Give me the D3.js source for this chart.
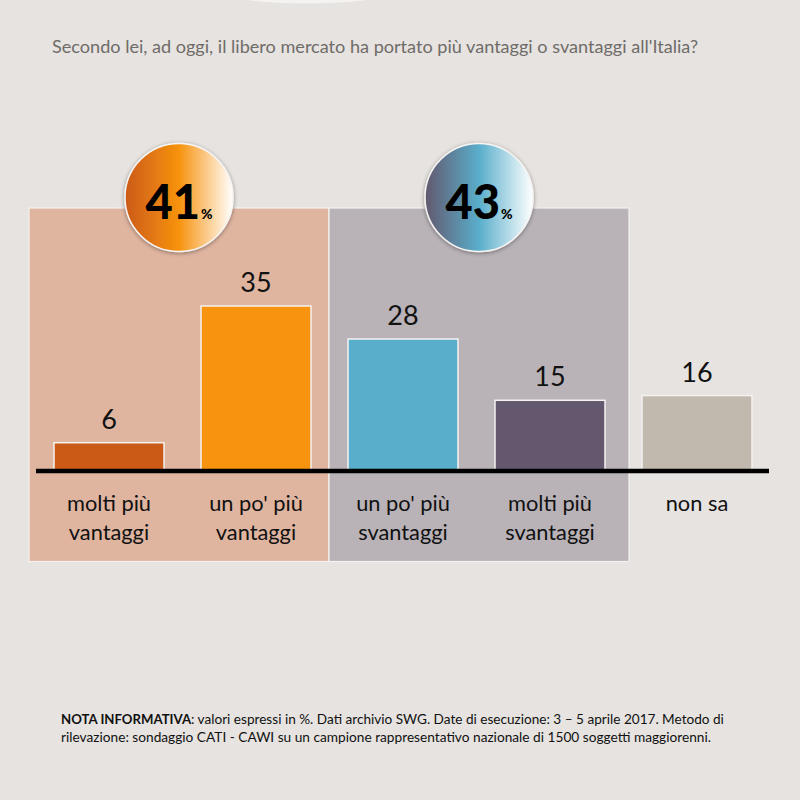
<!DOCTYPE html>
<html>
<head>
<meta charset="utf-8">
<script src="https://cdn.jsdelivr.net/npm/d3@7"></script>
<style>
	html, body { margin: 0; padding: 0; background: #e6e3e0; }
	svg { display: block; font-family: Lato, "Open Sans", sans-serif; }
</style>
</head>
<body>
<svg class="viz" width="800" height="800"></svg>
<script>
const titleText = "Secondo lei, ad oggi, il libero mercato ha portato più vantaggi o svantaggi all'Italia?";
const categories = ["molti più vantaggi", "un po' più vantaggi", "un po' più svantaggi", "molti più svantaggi", "non sa"];
const tickLines = [["molti più", "vantaggi"], ["un po' più", "vantaggi"], ["un po' più", "svantaggi"], ["molti più", "svantaggi"], ["non sa"]];
const values = [6, 35, 28, 15, 16];
const barColors = ["#cb5a17", "#f7930f", "#59aecb", "#63586e", "#c1b8ae"];
const groupTotals = [41, 43];
const groupFills = ["#dfb5a0", "#b9b3b8"];
const groupGradients = [["#cb5a17", "#f7930f", "#ffffff"], ["#63586e", "#59aecb", "#ffffff"]];
const noteBold = "NOTA INFORMATIVA";
const noteLines = [": valori espressi in %. Dati archivio SWG. Date di esecuzione: 3 – 5 aprile 2017. Metodo di",
	"rilevazione: sondaggio CATI - CAWI su un campione rappresentativo nazionale di 1500 soggetti maggiorenni."];

function render() {
	let grph = d3.select(".viz");
	const axisY = 471;
	const topY = 306;
	const stroke = "#f4f2f0";
	const panelLeft = 29;
	const panelWdth = 300;

	let x = d3.scaleBand().domain(categories).range([35.5, 770.5]).paddingInner(0.2517).paddingOuter(0.126);
	let y = d3.scaleLinear().domain([0, 35]).range([axisY, topY]);

	// top white ellipse, cut by the page edge
	grph.append("ellipse").attr("cx", 307).attr("cy", -20).attr("rx", 114).attr("ry", 23.5).attr("fill", "#f4f3f1");

	grph.append("text").attr("x", 52).attr("y", 52.5)
		.attr("font-size", 17.6).attr("fill", "#6f6c69")
		.attr("textLength", 646).attr("lengthAdjust", "spacingAndGlyphs")
		.text(titleText);

	let defs = grph.append("defs");
	groupGradients.forEach((stops, idx) => {
		let grad = defs.append("linearGradient").attr("id", "grad" + idx);
		grad.selectAll("stop").data(stops).join("stop")
			.attr("offset", (d, i) => i / 2)
			.attr("stop-color", d => d);
	});
	let shadow = defs.append("filter").attr("id", "shadow")
		.attr("x", "-20%").attr("y", "-20%").attr("width", "140%").attr("height", "140%");
	shadow.append("feDropShadow").attr("dx", 0).attr("dy", 1)
		.attr("stdDeviation", 2).attr("flood-color", "#000").attr("flood-opacity", 0.4);

	// group panels behind the bars
	grph.selectAll(".panel").data(groupFills).join("rect").attr("class", "panel")
		.attr("x", (d, i) => panelLeft + i * panelWdth)
		.attr("y", 208)
		.attr("width", panelWdth)
		.attr("height", 353.5)
		.attr("fill", d => d)
		.attr("stroke", stroke).attr("stroke-width", 1.2);

	grph.selectAll(".bar").data(values).join("rect").attr("class", "bar")
		.attr("x", (d, i) => x(categories[i]))
		.attr("y", d => y(d))
		.attr("width", x.bandwidth())
		.attr("height", d => axisY - y(d))
		.attr("fill", (d, i) => barColors[i])
		.attr("stroke", stroke).attr("stroke-width", 1.5);

	grph.selectAll(".valu").data(values).join("text").attr("class", "valu")
		.attr("x", (d, i) => x(categories[i]) + x.bandwidth() / 2)
		.attr("y", d => y(d) - 14)
		.attr("text-anchor", "middle").attr("font-size", 27).attr("fill", "#111")
		.text(d => d);

	grph.append("line").attr("x1", 36).attr("x2", 769).attr("y1", axisY).attr("y2", axisY)
		.attr("stroke", "#000").attr("stroke-width", 4.5);

	// category labels, two lines at most
	tickLines.forEach((lines, idx) => {
		grph.append("text")
			.attr("text-anchor", "middle").attr("font-size", 21.8).attr("fill", "#111")
			.selectAll("tspan").data(lines).join("tspan")
			.attr("x", x(categories[idx]) + x.bandwidth() / 2)
			.attr("y", (d, i) => 511 + i * 29)
			.text(d => d);
	});

	// total badges
	groupTotals.forEach((total, idx) => {
		let cx = panelLeft + 150 + idx * panelWdth;
		let g = grph.append("g");
		g.append("circle").attr("cx", cx).attr("cy", 197.5).attr("r", 54)
			.attr("fill", "url(#grad" + idx + ")")
			.attr("stroke", "#f7f5f3").attr("stroke-width", 1.5)
			.attr("filter", "url(#shadow)");
		let txt = g.append("text").attr("x", cx - 33.5).attr("y", 219).attr("fill", "#000").attr("font-weight", 900);
		txt.append("tspan").attr("font-size", 47).text(total);
		txt.append("tspan").attr("font-size", 14).attr("dx", 1).text("%");
	});

	// footnote
	let note = grph.append("text").attr("x", 61).attr("y", 724).attr("fill", "#111");
	note.append("tspan").attr("font-size", 13.2).attr("font-weight", 700).text(noteBold);
	note.append("tspan").attr("font-size", 13.6).text(noteLines[0]);
	grph.append("text").attr("x", 61).attr("y", 742).attr("font-size", 13.7).attr("fill", "#111").text(noteLines[1]);
}

render();
</script>
</body>
</html>
